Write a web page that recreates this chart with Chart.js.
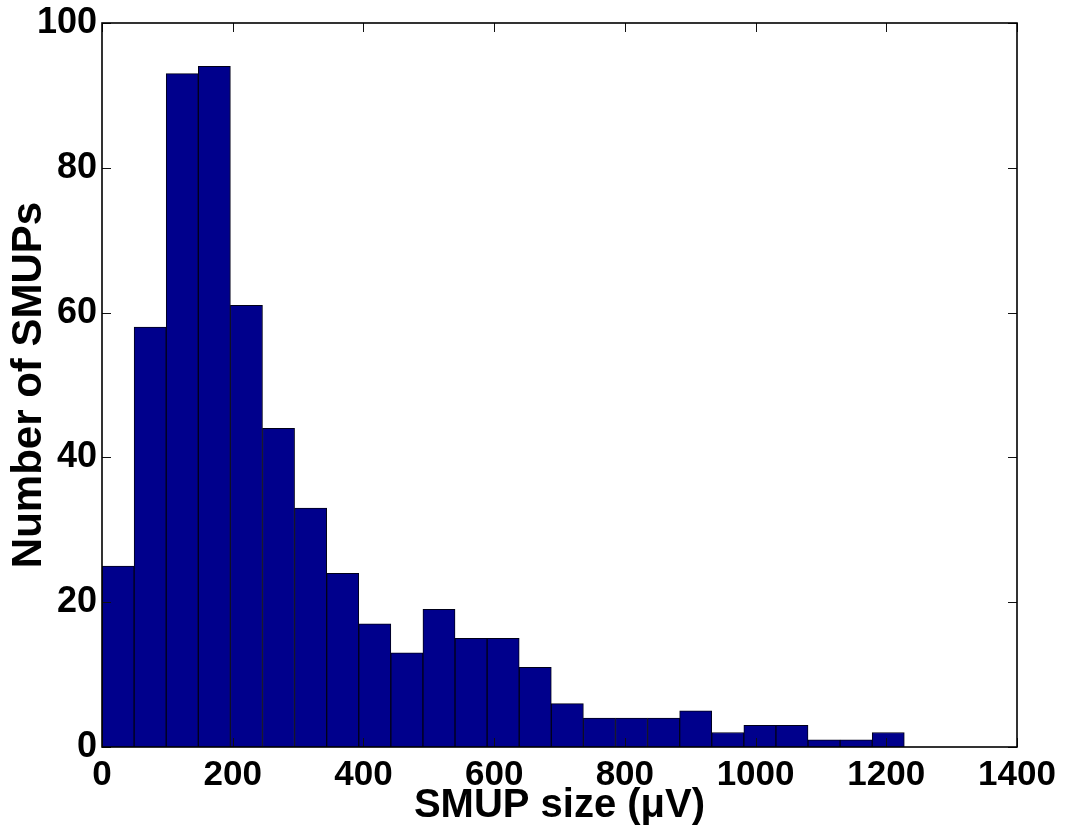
<!DOCTYPE html>
<html>
<head>
<meta charset="utf-8">
<title>SMUP size histogram</title>
<script src="https://cdn.jsdelivr.net/npm/chart.js@4.4.1/dist/chart.umd.min.js"></script>
<style>
  html, body { margin: 0; padding: 0; background: #fff; }
  #wrap { width: 1065px; height: 836px; }
</style>
</head>
<body>
<div id="wrap"><canvas id="chartSmup" width="1065" height="836"></canvas></div>
<script>
// bin centres (µV), bin width ~49.1
const binCenters = [
    24.6, 73.7, 122.8, 171.9, 221.0, 270.1, 319.2, 368.3, 417.4, 466.5,
    515.6, 564.7, 613.8, 662.9, 712.0, 761.1, 810.2, 859.3, 908.4, 957.5,
    1006.6, 1055.7, 1104.8, 1153.9, 1203.0
];
// counts per bin
const smupCounts = [
    25, 58, 93, 94, 61, 44, 33, 24, 17, 13,
    19, 15, 15, 11, 6, 4, 4, 4, 5, 2,
    3, 3, 1, 1, 2
];
const xTicks = [0, 200, 400, 600, 800, 1000, 1200, 1400];
const yTicks = [0, 20, 40, 60, 80, 100];

const FONT = '"Liberation Sans", Arial, Helvetica, sans-serif';

/* ==============================
   MARCO + MARCAS HACIA DENTRO
================================ */
const frameTicks = {
    id: 'frameTicks',
    afterDatasetsDraw(chart) {
        const { ctx, chartArea: a, scales: { x, y } } = chart;
        const len = 9;
        ctx.save();
        ctx.strokeStyle = '#111';
        ctx.lineWidth = 1;
        ctx.beginPath();
        xTicks.forEach(v => {
            const px = Math.round(x.getPixelForValue(v)) + 0.5;
            ctx.moveTo(px, a.bottom); ctx.lineTo(px, a.bottom - len);
            ctx.moveTo(px, a.top); ctx.lineTo(px, a.top + len);
        });
        yTicks.forEach(v => {
            const py = Math.round(y.getPixelForValue(v)) + 0.5;
            ctx.moveTo(a.left, py); ctx.lineTo(a.left + len, py);
            ctx.moveTo(a.right, py); ctx.lineTo(a.right - len, py);
        });
        ctx.stroke();
        ctx.lineWidth = 1.6;
        ctx.strokeStyle = '#000';
        ctx.strokeRect(a.left, a.top, a.right - a.left, a.bottom - a.top);
        ctx.restore();
    }
};

const ctx = document.getElementById('chartSmup');

new Chart(ctx, {
    type: 'bar',
    data: {
        datasets: [{
            data: binCenters.map((c, i) => ({ x: c, y: smupCounts[i] })),
            backgroundColor: '#00008c',
            borderColor: '#000018',
            borderWidth: 1,
            barPercentage: 1,
            categoryPercentage: 1
        }]
    },
    options: {
        responsive: false,
        animation: false,
        layout: { padding: { top: 20, right: 48, left: 0, bottom: 0 } },
        plugins: {
            legend: { display: false },
            tooltip: { enabled: false }
        },
        scales: {
            x: {
                type: 'linear',
                min: 0,
                max: 1400,
                offset: false,
                afterBuildTicks: s => { s.ticks = xTicks.map(v => ({ value: v })); },
                afterFit: s => { s.height = 89; },
                grid: { display: false, drawTicks: false, offset: false },
                border: { display: false },
                ticks: {
                    color: '#000',
                    padding: 7,
                    maxRotation: 0,
                    callback: v => String(v),
                    font: { family: FONT, size: 35, weight: 'bold', lineHeight: 1.2 }
                },
                title: {
                    display: true,
                    text: 'SMUP size (μV)',
                    color: '#000',
                    padding: { top: 0, bottom: 6 },
                    font: { family: FONT, size: 40, weight: 'bold', lineHeight: 1.2 }
                }
            },
            y: {
                min: 0,
                max: 100,
                afterBuildTicks: s => { s.ticks = yTicks.map(v => ({ value: v })); },
                afterFit: s => { s.width = 102; },
                grid: { display: false, drawTicks: false },
                border: { display: false },
                ticks: {
                    color: '#000',
                    padding: 5,
                    callback: v => String(v),
                    font: { family: FONT, size: 36, weight: 'bold', lineHeight: 1 }
                },
                title: {
                    display: true,
                    text: 'Number of SMUPs',
                    color: '#000',
                    padding: { top: 4, bottom: 0 },
                    font: { family: FONT, size: 42, weight: 'bold', lineHeight: 1.2 }
                }
            }
        }
    },
    plugins: [frameTicks]
});
</script>
</body>
</html>
